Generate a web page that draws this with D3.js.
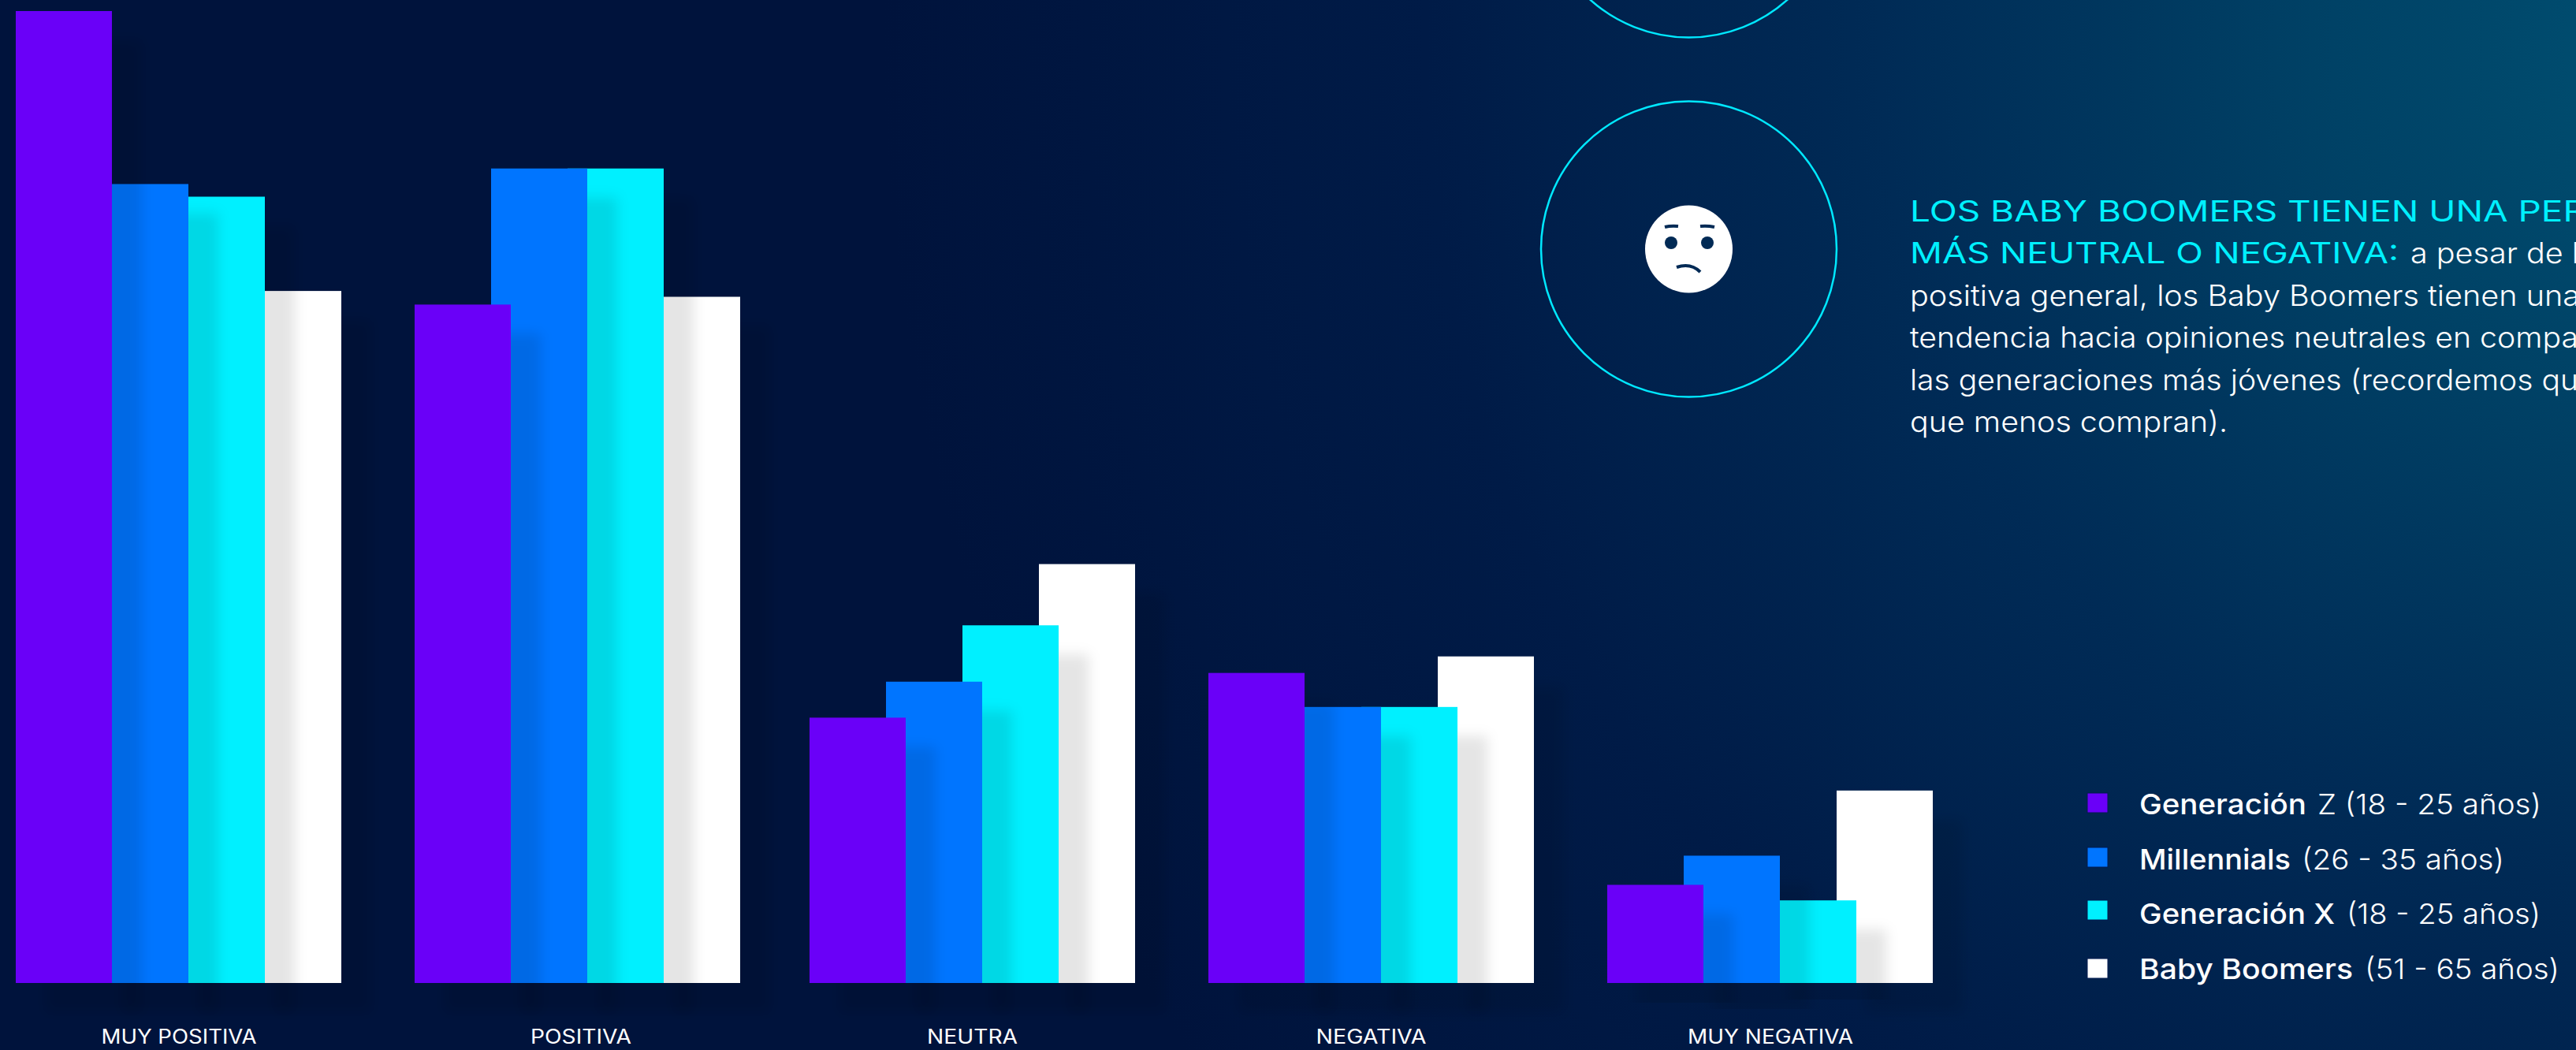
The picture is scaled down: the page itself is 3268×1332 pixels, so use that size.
<!DOCTYPE html>
<html><head><meta charset="utf-8">
<script src="https://cdn.jsdelivr.net/npm/d3@7"></script>
<style>html,body{margin:0;padding:0;background:#00143d;overflow:hidden}svg{display:block}text{font-family:Inter,"Noto Sans",sans-serif}</style>
</head><body><svg id="c" width="3268" height="1332"></svg>
<script>
const categories=["MUY POSITIVA","POSITIVA","NEUTRA","NEGATIVA","MUY NEGATIVA"];
const generacionZ=[100,69.8,27.3,31.9,10.1];
const millennials=[82.2,83.8,31.0,28.4,13.1];
const generacionX=[80.9,83.8,36.8,28.4,8.5];
const babyBoomers=[71.2,70.6,43.1,33.6,19.8];
const seriesNames=["Generación Z","Millennials","Generación X","Baby Boomers"];
const seriesColors=["#6a00f8","#0075ff","#00f0ff","#ffffff"];
const legendBold=["Generación","Millennials","Generación X","Baby Boomers"];
const legendLight=["Z (18 - 25 años)","(26 - 35 años)","(18 - 25 años)","(51 - 65 años)"];
const calloutHead=["LOS BABY BOOMERS TIENEN UNA PER","MÁS NEUTRAL O NEGATIVA:"];
const calloutBody=["a pesar de l","positiva general, los Baby Boomers tienen una","tendencia hacia opiniones neutrales en compa","las generaciones más jóvenes (recordemos qu","que menos compran)."];

const svg=d3.select("#c");
const defs=svg.append("defs");
const bg=defs.append("radialGradient").attr("id","bg").attr("gradientUnits","userSpaceOnUse")
 .attr("cx",3420).attr("cy",60).attr("r",2300);
[[0,"#005072"],[0.2,"#004266"],[0.45,"#002b56"],[0.7,"#001b47"],[1,"#00133c"]].forEach(s=>bg.append("stop").attr("offset",s[0]).attr("stop-color",s[1]));
const f=defs.append("filter").attr("id","sh").attr("x","-30%").attr("y","-10%").attr("width","180%").attr("height","130%");
f.append("feDropShadow").attr("dx",38).attr("dy",37).attr("stdDeviation",8).attr("flood-color","#000").attr("flood-opacity",0.1);
svg.append("rect").attr("width",3268).attr("height",1332).attr("fill","url(#bg)");

const x0=d3.scaleOrdinal().domain(categories).range([20,526,1027,1533,2039]);
const groupW=413, barW=122;
const x1=d3.scalePoint().domain(seriesNames).range([0,groupW-barW]);
const y=d3.scaleLinear().domain([0,100]).range([1247,14]);
const allSeries=[generacionZ,millennials,generacionX,babyBoomers];

const order=[3,2,1,0];
categories.forEach((c,ci)=>{
  const g=svg.append("g");
  g.selectAll("rect").data(order).join("rect")
   .attr("x",i=>x0(c)+x1(seriesNames[i]))
   .attr("y",i=>y(allSeries[i][ci]))
   .attr("width",barW)
   .attr("height",i=>y(0)-y(allSeries[i][ci]))
   .attr("fill",i=>seriesColors[i])
   .attr("filter","url(#sh)");
});

const xLabel=d3.scaleOrdinal().domain(categories).range([226.5,736.5,1233,1739,2245.5]);
const labelLen=[197,128,115,140,210];
const ax=svg.append("g").attr("transform","translate(0,1300)").call(d3.axisBottom(xLabel).tickSize(0).tickPadding(0));
ax.select(".domain").remove();
ax.selectAll("text").attr("fill","#fff").attr("font-size",25).attr("font-weight",400).attr("dy",0).attr("y",24)
  .style("font-family","Inter")
  .attr("textLength",(d,i)=>labelLen[i]).attr("lengthAdjust","spacingAndGlyphs");

const cyan="#00e8ff";
svg.append("circle").attr("cx",2142.5).attr("cy",-140).attr("r",187.5).attr("fill","none").attr("stroke",cyan).attr("stroke-width",2.5);
svg.append("circle").attr("cx",2142.5).attr("cy",316).attr("r",187.5).attr("fill","none").attr("stroke",cyan).attr("stroke-width",2.5);
const face=svg.append("g");
const dark="#012a55";
face.append("circle").attr("cx",2142.5).attr("cy",316).attr("r",55.5).attr("fill","#fff");
[2120,2166].forEach(cx=>face.append("circle").attr("cx",cx).attr("cy",308).attr("r",8).attr("fill",dark));
face.append("path").attr("d","M2112,288 Q2120,286 2129,287").attr("fill","none").attr("stroke",dark).attr("stroke-width",4);
face.append("path").attr("d","M2157,287 Q2166,286 2175,288").attr("fill","none").attr("stroke",dark).attr("stroke-width",4);
face.append("path").attr("d","M2127,339 Q2145,333 2157,345").attr("fill","none").attr("stroke",dark).attr("stroke-width",4);

function fit(t,x,yy,len,weight,fill,size){
  svg.append("text").attr("x",x).attr("y",yy).attr("font-size",size).attr("font-weight",weight).attr("fill",fill)
     .attr("textLength",len).attr("lengthAdjust","spacingAndGlyphs").text(t);
}
const tx=2423, fs=37, lh=53.4, y0=281, headC="#00f0ff";
fit(calloutHead[0],tx,y0,858,400,headC,fs);
fit(calloutHead[1],tx,y0+lh,620,400,headC,fs);
fit(calloutBody[0],3058,y0+lh,214,300,"#fff",fs);
[850,848,848,403].forEach((len,i)=>fit(calloutBody[i+1],tx,y0+lh*(i+2),len,300,"#fff",fs));

const legendY=[1006,1075,1142,1216], legendTextY=[1033,1103,1172,1242];
const boldLen=[212,192,248,271], lightX=[2940,2920,2977,3000], lightLen=[284,257,246,247];
seriesNames.forEach((n,i)=>{
  svg.append("rect").attr("x",2648).attr("y",legendY[i]).attr("width",26).attr("height",25)
    .attr("fill",seriesColors[i]).attr("stroke","#001a50").attr("stroke-width",1);
  fit(legendBold[i],2714,legendTextY[i],boldLen[i],500,"#fff",36);
  fit(legendLight[i],lightX[i],legendTextY[i],lightLen[i],300,"#fff",36);
});
</script></body></html>
